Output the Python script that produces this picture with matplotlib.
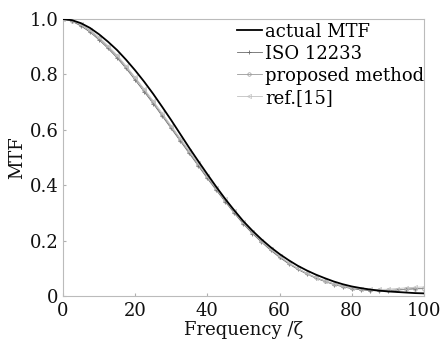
import numpy as np
import matplotlib.pyplot as plt

# frequency samples (step 2.5)
freq = np.arange(0, 100.1, 2.5)

actual_mtf = [1.000, 0.996, 0.985, 0.968, 0.945, 0.918, 0.888, 0.853, 0.815, 0.774,
              0.730, 0.683, 0.635, 0.585, 0.535, 0.487, 0.440, 0.394, 0.350, 0.309,
              0.270, 0.236, 0.205, 0.177, 0.152, 0.130, 0.110, 0.093, 0.078, 0.065,
              0.053, 0.043, 0.035, 0.029, 0.024, 0.020, 0.017, 0.015, 0.013, 0.011, 0.010]

iso_12233 = [1.000, 0.992, 0.975, 0.953, 0.925, 0.894, 0.860, 0.822, 0.780, 0.738,
             0.695, 0.650, 0.605, 0.560, 0.515, 0.470, 0.425, 0.382, 0.340, 0.299,
             0.260, 0.226, 0.195, 0.166, 0.140, 0.117, 0.097, 0.080, 0.065, 0.053,
             0.042, 0.034, 0.027, 0.023, 0.020, 0.019, 0.020, 0.022, 0.025, 0.027, 0.028]

proposed = [1.000, 0.994, 0.980, 0.958, 0.930, 0.899, 0.865, 0.827, 0.787, 0.744,
            0.700, 0.655, 0.610, 0.565, 0.520, 0.475, 0.430, 0.387, 0.345, 0.304,
            0.265, 0.230, 0.198, 0.169, 0.143, 0.120, 0.100, 0.083, 0.068, 0.056,
            0.045, 0.037, 0.030, 0.025, 0.022, 0.021, 0.021, 0.022, 0.024, 0.026, 0.027]

ref15 = [1.000, 0.995, 0.982, 0.961, 0.935, 0.904, 0.870, 0.831, 0.790, 0.748,
         0.705, 0.660, 0.615, 0.570, 0.525, 0.480, 0.435, 0.392, 0.350, 0.308,
         0.268, 0.233, 0.200, 0.171, 0.145, 0.121, 0.100, 0.082, 0.067, 0.055,
         0.044, 0.036, 0.030, 0.026, 0.024, 0.024, 0.025, 0.027, 0.030, 0.032, 0.033]

xticks = [0, 20, 40, 60, 80, 100]
yticks = [0, 0.2, 0.4, 0.6, 0.8, 1.0]
ylabels = ['0', '0.2', '0.4', '0.6', '0.8', '1.0']

plt.rcParams['font.family'] = ['DejaVu Serif']

fig = plt.figure(figsize=(4.43, 3.40), dpi=100)
ax = fig.add_axes([0.142, 0.129, 0.815, 0.815])

ax.plot(freq, iso_12233, color='#6a6a6a', lw=0.6, marker='+', ms=3.5, mew=0.6,
        label='ISO 12233')
ax.plot(freq, proposed, color='#999999', lw=0.6, marker='o', ms=2.5, mew=0.5,
        mfc='none', label='proposed method')
ax.plot(freq, ref15, color='#c0c0c0', lw=0.6, marker='<', ms=3, mew=0.5,
        mfc='none', label='ref.[15]')
ax.plot(freq, actual_mtf, color='black', lw=1.3, label='actual MTF', zorder=5)

ax.set_xlim(0, 100)
ax.set_ylim(0, 1.0)
ax.set_xticks(xticks)
ax.set_yticks(yticks)
ax.set_yticklabels(ylabels)
ax.tick_params(direction='in', length=2.5, color='#b0b0b0', labelsize=13,
               labelcolor='#111111')
ax.tick_params(axis='x', pad=4)
ax.tick_params(axis='y', pad=3)
for s in ax.spines.values():
    s.set_color('#bbbbbb')
    s.set_linewidth(0.8)

ax.set_xlabel('Frequency /ζ', fontsize=13, color='#111111', labelpad=1)
ax.set_ylabel('MTF', fontsize=13, color='#111111', labelpad=3)

h, l = ax.get_legend_handles_labels()
order = [3, 0, 1, 2]
ax.legend([h[i] for i in order], [l[i] for i in order], loc='upper right',
          frameon=False, fontsize=13, handlelength=1.4, handletextpad=0.15,
          labelspacing=0.22, borderaxespad=0.0, borderpad=0.2,
          bbox_to_anchor=(1.01, 1.0))

fig.savefig('out.png', dpi=100)
